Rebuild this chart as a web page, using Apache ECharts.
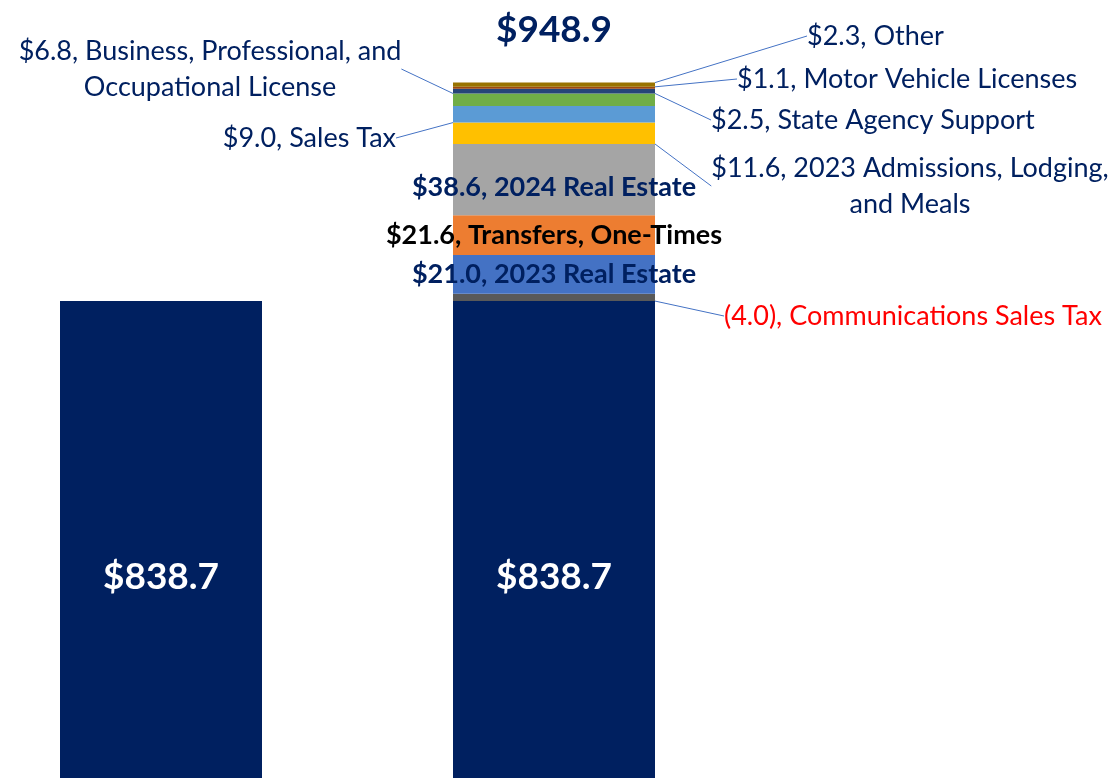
<!DOCTYPE html>
<html>
<head>
<meta charset="utf-8">
<script src="https://cdn.jsdelivr.net/npm/echarts@6/dist/echarts.min.js"></script>
<style>
html,body{margin:0;padding:0;background:#fff;}
#c{width:1114px;height:778px;}
</style>
</head>
<body>
<div id="c"></div>
<script>
// ---- data ----
const categories = ['Base', 'Revised'];
const baseValues = [838.7, 838.7];
const segmentNames = ['Communications Sales Tax', '2023 Real Estate', 'Transfers, One-Times', '2024 Real Estate',
  '2023 Admissions, Lodging, and Meals', 'Sales Tax', 'Business, Professional, and Occupational License',
  'State Agency Support', 'Motor Vehicle Licenses', 'Other'];
const segmentValues = [-4.0, 21.0, 21.6, 38.6, 11.6, 9.0, 6.8, 2.5, 1.1, 2.3];
const totalValue = 948.9;

// ---- styling ----
const NAVY = '#002060';
const FONT = 'Lato';
const segColors = ['#595959', '#4472C4', '#ED7D31', '#A5A5A5', '#FFC000', '#5B9BD5', '#70AD47', '#264478', '#9E480E', '#997300'];
const displayNames = ['Communications Sales Tax', '2023 Real Estate', 'Transfers, One-Times', '2024 Real Estate',
  '2023 Admissions, Lodging,\nand Meals', 'Sales Tax', 'Business, Professional, and\nOccupational License',
  'State Agency Support', 'Motor Vehicle Licenses', 'Other'];
// label placement: null => inside bar
const labelPlace = [
  {x: 724, y: 316, align: 'left', color: '#FF0000'},
  null, null, null,
  {x: 910, y: 186, align: 'center'},
  {x: 396, y: 138, align: 'right'},
  {x: 210, y: 69, align: 'center'},
  {x: 711, y: 120, align: 'left'},
  {x: 737, y: 79, align: 'left'},
  {x: 807, y: 36, align: 'left'}
];
const insideColors = [null, NAVY, '#000000', NAVY];

function fmtVal(v) {
  return v < 0 ? '(' + Math.abs(v).toFixed(1) + ')' : '$' + v.toFixed(1);
}

const series = [];
series.push({
  name: 'Base', type: 'bar', stack: 's', barWidth: 202,
  data: baseValues,
  itemStyle: {color: NAVY},
  label: {show: true, position: 'insideBottom', distance: 182, color: '#fff',
    fontFamily: FONT, fontWeight: 'bold', fontSize: 37,
    formatter: p => '$' + p.value.toFixed(1)}
});
segmentValues.forEach((v, i) => {
  const pl = labelPlace[i];
  const s = {
    name: segmentNames[i], type: 'bar', stack: 's', barWidth: 202,
    data: [null, Math.abs(v)],
    itemStyle: {color: segColors[i]},
    label: {
      show: true,
      formatter: () => fmtVal(v) + ', ' + displayNames[i],
      fontFamily: FONT, fontSize: 27, lineHeight: 36
    }
  };
  if (pl) {
    s.label.color = pl.color || NAVY;
    s.label.align = pl.align;
    s.labelLayout = {x: pl.x, y: pl.y, align: pl.align, verticalAlign: 'middle'};
    s.labelLine = {show: true, lineStyle: {color: '#4472C4', width: 1}};
  } else {
    s.label.position = 'inside';
    s.label.offset = i === 3 ? [0, 8] : [0, 0];
    s.label.color = insideColors[i];
    s.label.fontWeight = 'bold';
  }
  series.push(s);
});
series.push({
  name: 'Total', type: 'bar', stack: 's', barWidth: 202,
  data: [null, 0],
  itemStyle: {color: 'transparent'},
  label: {show: true, position: 'top', distance: 34, color: NAVY,
    fontFamily: FONT, fontWeight: 'bold', fontSize: 37,
    formatter: () => '$' + totalValue.toFixed(1)}
});

const chart = echarts.init(document.getElementById('c'), null, {renderer: 'canvas'});
chart.setOption({
  animation: false,
  grid: {left: -35.5, width: 786, top: 0, bottom: 0, containLabel: false, outerBoundsMode: 'none'},
  xAxis: {type: 'category', data: categories, show: false},
  yAxis: {type: 'value', min: 580, max: 1002, show: false},
  series: series
});
</script>
</body>
</html>
